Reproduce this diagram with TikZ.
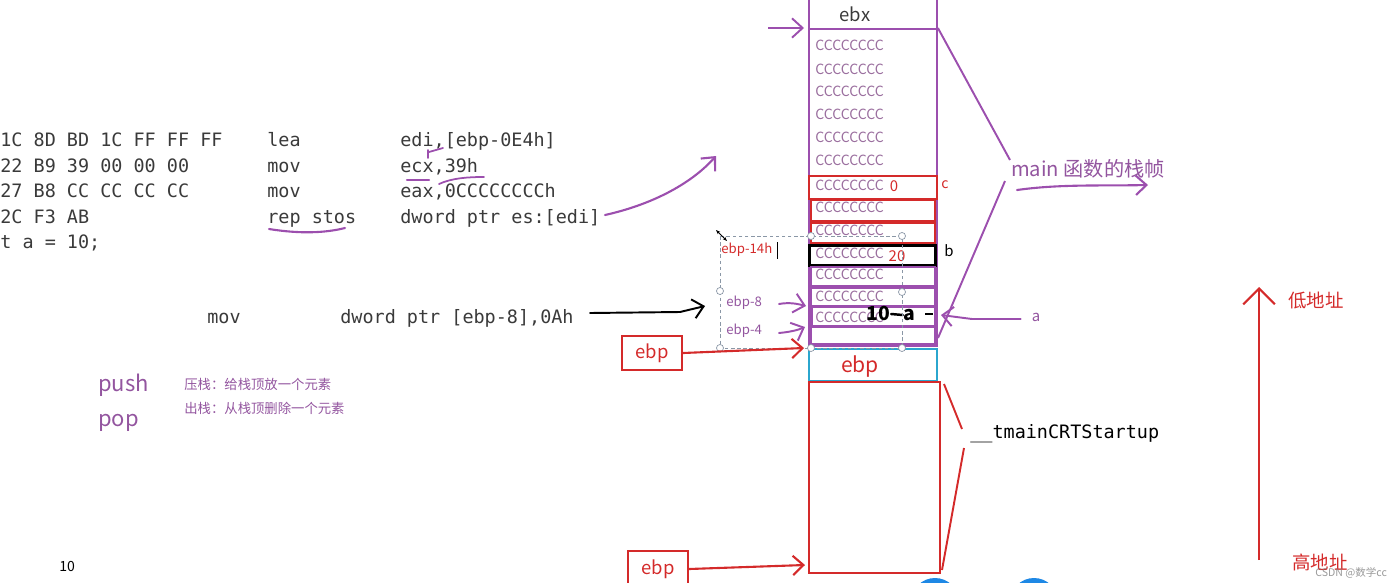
\documentclass[tikz,border=0pt]{standalone}
\usepackage{fontspec}
\setmainfont{Noto Sans CJK SC}
\newfontfamily\cjk{Noto Sans CJK SC}
\newfontfamily\mono{DejaVu Sans Mono}
\usetikzlibrary{arrows.meta}
\definecolor{lp}{HTML}{9C4FAE}
\definecolor{tp}{HTML}{93559F}
\definecolor{cc}{HTML}{9A6E9E}
\definecolor{rd}{HTML}{D42A2A}
\definecolor{cy}{HTML}{2BA6CE}
\definecolor{cg}{HTML}{3A3A3A}
\definecolor{sel}{HTML}{8A97A6}
\definecolor{ui}{HTML}{1E88E5}
\begin{document}
\begin{tikzpicture}[x=0.02cm,y=-0.02cm,
  code/.style={font=\mono\fontsize{10.5pt}{12pt}\selectfont, text=cg, anchor=base west, inner sep=0},
  ccc/.style={font=\fontsize{8pt}{9pt}\selectfont, text=cc, anchor=west, inner sep=0},
  cellbox/.style={draw, inner sep=0, anchor=north west},
  barb/.style={-{Straight Barb[length=6pt,width=11pt]}},
  hand/.style={line cap=round, line join=round},
  ebpbox/.style={draw=rd, line width=1.3pt, text=rd, minimum width=1.2cm, minimum height=0.67cm, inner sep=0, font=\fontsize{10.5pt}{12pt}\selectfont},
  handle/.style={circle, draw=sel, fill=white, inner sep=0, minimum size=4pt, line width=0.4pt}
]
\useasboundingbox (0,0) rectangle (1400,582);

% ---------------- code listing ----------------
\node[code] (h1) at (0,146) {1C 8D BD 1C FF FF FF};
\node[code] (m1) at (267,146) {lea};
\node[code] (o1) at (400,146) {edi,[ebp-0E4h]};
\node[code] (h2) at (0,172) {22 B9 39 00 00 00};
\node[code] (m2) at (267,172) {mov};
\node[code] (o2) at (400,172) {ecx,39h};
\node[code] (h3) at (0,197) {27 B8 CC CC CC CC};
\node[code] (m3) at (267,197) {mov};
\node[code] (o3) at (400,197) {eax,0CCCCCCCCh};
\node[code] (h4) at (0,223) {2C F3 AB};
\node[code] (m4) at (267,223) {rep stos};
\node[code] (o4) at (400,223) {dword ptr es:[edi]};
\node[code] (h5) at (0,248) {t a = 10;};
\node[code] (m6) at (207,323) {mov};
\node[code] (o6) at (340,323) {dword ptr [ebp-8],0Ah};

% handwritten marks on code
\draw[lp, line width=1.2pt, hand] (269,229) .. controls (300,234) and (325,233) .. (345,228);
\draw[lp, line width=1.2pt, hand] (407,180) -- (429,180);
\draw[lp, line width=1pt, hand] (439,184) .. controls (452,178) and (468,177) .. (484,177);
\draw[lp, line width=1pt, hand] (443,148) -- (429,152);
\draw[lp, line width=1pt, hand] (428,150) -- (428,158);
\coordinate (edit) at (605,215);
\coordinate (edihead) at (716,156);
\draw[lp, line width=1.2pt, hand, barb] (edit) .. controls (650,205) and (690,185) .. (edihead);

% ---------------- stack ----------------
\node[cellbox, draw=lp, line width=1.1pt, minimum width=2.56cm, minimum height=0.76cm] (ebxcell) at (808,-10) {};
\node[text=cg, font=\fontsize{10.5pt}{12pt}\selectfont] (ebxt) at (855,14) {ebx};
\node[cellbox, draw=lp, line width=1.1pt, minimum width=2.56cm, minimum height=6.34cm] (frame) at (808,28) {};
\node[cellbox, draw=rd, line width=1.2pt, minimum width=2.56cm, minimum height=0.46cm] (cbox) at (808,175) {};
\node[cellbox, draw=rd, line width=1.2pt, minimum width=2.48cm, minimum height=0.42cm] (r2) at (810,199) {};
\node[cellbox, draw=rd, line width=1.2pt, minimum width=2.48cm, minimum height=0.40cm] (r3) at (810,222) {};
\node[cellbox, draw=black, line width=1.5pt, minimum width=2.52cm, minimum height=0.40cm] (bbox) at (808,244) {};
\node[cellbox, draw=lp, line width=1.1pt, minimum width=2.48cm, minimum height=0.38cm] (p1) at (810,266) {};
\node[cellbox, draw=lp, line width=1.1pt, minimum width=2.48cm, minimum height=0.36cm] (p2) at (810,287) {};
\node[cellbox, draw=lp, line width=1.8pt, minimum width=2.48cm, minimum height=0.40cm] (abox) at (810,305) {};
\node[cellbox, draw=lp, line width=1.1pt, minimum width=2.48cm, minimum height=0.36cm] (p4) at (810,325) {};
\node[cellbox, draw=cy, line width=1.1pt, minimum width=2.56cm, minimum height=0.64cm] (ebpcell) at (808,348) {};
\node[text=rd, font=\fontsize{12pt}{14pt}\selectfont] (ebpt) at (860,367) {ebp};
\node[cellbox, draw=rd, line width=1.2pt, minimum width=2.62cm, minimum height=3.82cm] (crt) at (808,381) {};

\foreach \i/\yy in {1/45,2/69,3/91,4/114,5/137,6/160,7/185,8/207,9/230,10/253,11/274,12/296,13/317}
  \node[ccc] (cc\i) at (815,\yy) {CCCCCCCC};
\node[text=rd, font=\fontsize{8.5pt}{10pt}\selectfont, inner sep=0] (zero) at (894,186) {0};
\node[text=rd, font=\fontsize{8.5pt}{10pt}\selectfont, inner sep=0] (twenty) at (897,256) {20};
\node[text=black, font=\bfseries\itshape\fontsize{11pt}{12pt}\selectfont, inner sep=0] (ten) at (878,313) {10};
\node[text=black, font=\bfseries\fontsize{11pt}{12pt}\selectfont, inner sep=0] (aa) at (909,315) {a};
\draw[black, line width=1.4pt, hand] (ten.east) ++(1,1) -- (aa.west);
\draw[black, line width=0.8pt] (925,314) -- (933,314);

% labels c b a
\node[text=rd, font=\fontsize{8pt}{9pt}\selectfont] (lc) at (945,185) {c};
\node[text=black, font=\fontsize{8.5pt}{10pt}\selectfont] (lb) at (949,251) {b};
\node[text=tp, font=\fontsize{8.5pt}{10pt}\selectfont] (la) at (1036,317) {a};
\coordinate (aend) at (941,315);
\draw[lp, line width=1.1pt, hand, barb] (la.west) ++(-5,2) -- (972,319) -- (aend);

% top arrow
\coordinate (topin) at (804,28);
\coordinate (topout) at (768,28);
\draw[lp, line width=1.1pt, barb] (topout) -- (topin);

% main frame bracket
\node[text=tp, font=\fontsize{11.5pt}{13pt}\selectfont, inner sep=0] (mainl) at (1088,169) {main 函数的栈帧};
\draw[lp, line width=1.1pt] (frame.north east) -- (1010,160);
\draw[lp, line width=1.1pt] (1005,181) -- (938,338);
\coordinate (mu1) at (1017,190);
\coordinate (mu2) at (1148,185);
\draw[lp, line width=1.2pt, hand, barb] (mu1) .. controls (1060,184) and (1100,186) .. (mu2);

% selection box
\draw[sel, dashed, line width=0.5pt, dash pattern=on 2pt off 1.5pt] (720,236) rectangle (902,348);
\foreach \n/\hx/\hy in {s1/811/236,s2/902/236,s3/720/291,s4/902/292,s5/720/348,s6/811/348,s7/902/348}
  \node[handle] (\n) at (\hx,\hy) {};
\draw[black, line width=0.5pt, {Stealth[length=2.5pt]}-{Stealth[length=2.5pt]}] (716,230) -- (727,241);
\node[text=rd, font=\fontsize{7.5pt}{9pt}\selectfont, anchor=west, inner sep=0] (e14) at (721,250) {ebp-14h};
\draw[black, line width=0.4pt] (777,242) -- (777,259);
\node[text=tp, font=\fontsize{7.5pt}{9pt}\selectfont, anchor=west, inner sep=0] (e8) at (726,303) {ebp-8};
\node[text=tp, font=\fontsize{7.5pt}{9pt}\selectfont, anchor=west, inner sep=0] (e4) at (726,331) {ebp-4};
\coordinate (e8t) at (806,306);
\coordinate (e4t) at (805,327);
\draw[lp, line width=1.1pt, hand, barb] (779,304) .. controls (790,302) and (798,304) .. (e8t);
\draw[lp, line width=1.1pt, hand, barb] (779,333) .. controls (790,332) and (798,330) .. (e4t);

% black arrow from mov line
\coordinate (movtip) at (705,306);
\draw[black, line width=1.1pt, hand, barb] (590,313) -- (680,312) -- (movtip);

% ebp pointers
\node[ebpbox] (ebpA) at (652,353) {ebp};
\coordinate (ebpAt) at (804,348);
\draw[rd, line width=1.2pt, hand, barb] (ebpA.east) -- (ebpAt);
\node[ebpbox, minimum height=0.72cm] (ebpB) at (658,569) {ebp};
\coordinate (ebpBt) at (805,565);
\draw[rd, line width=1.2pt, hand, barb] (ebpB.east) -- (ebpBt);

% tmainCRTStartup
\node[code, text=black] (crtl) at (970,438) {\_\_tmainCRTStartup};
\draw[rd, line width=1.1pt] (944,384) -- (962,429);
\draw[rd, line width=1.1pt] (964,448) -- (942,570);

% push / pop
\node[text=tp, font=\fontsize{12.5pt}{14pt}\selectfont, anchor=west, inner sep=0] (push) at (98,385) {push};
\node[text=tp, font=\fontsize{12.5pt}{14pt}\selectfont, anchor=west, inner sep=0] (pop) at (98,423) {pop};
\node[text=tp, font=\fontsize{7.6pt}{9pt}\selectfont, anchor=west, inner sep=0] (pushd) at (184,384) {压栈：给栈顶放一个元素};
\node[text=tp, font=\fontsize{7.6pt}{9pt}\selectfont, anchor=west, inner sep=0] (popd) at (184,408) {出栈：从栈顶删除一个元素};

\node[text=black, font=\fontsize{8pt}{9pt}\selectfont, anchor=west, inner sep=0] (pg) at (59,566) {10};

% address arrow
\coordinate (adlo) at (1259,560);
\coordinate (adhi) at (1259,287);
\draw[rd, line width=1.2pt, -{Straight Barb[length=9pt,width=18pt]}] (adlo) -- (adhi);
\node[text=rd, font=\fontsize{10.5pt}{12pt}\selectfont, anchor=west, inner sep=0] (low) at (1288,301) {低地址};
\node[text=rd, font=\fontsize{10.5pt}{12pt}\selectfont, anchor=west, inner sep=0] (high) at (1292,562) {高地址};
\node[text=gray, opacity=0.8, font=\fontsize{6pt}{7pt}\selectfont, anchor=west, inner sep=0] (wm) at (1315,573) {CSDN @数学cc};

% UI buttons at the bottom edge
\fill[ui] (935,602) circle (24);
\fill[ui] (1034,602) circle (24);
\end{tikzpicture}
\end{document}
